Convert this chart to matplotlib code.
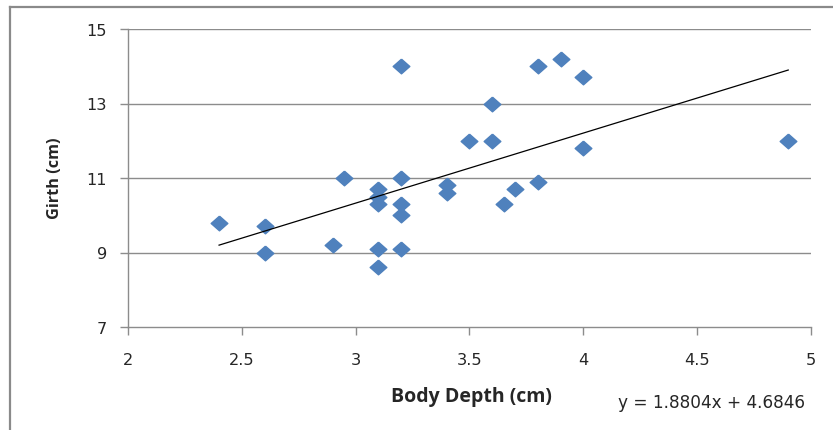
import matplotlib
matplotlib.use("Agg")
import matplotlib.pyplot as plt
from matplotlib.lines import Line2D

# Body depth vs girth measurements
body_depth = [2.4, 2.6, 2.6, 2.9, 2.95, 3.1, 3.1, 3.1, 3.1, 3.1,
              3.2, 3.2, 3.2, 3.2, 3.2, 3.4, 3.4, 3.5, 3.6, 3.6,
              3.65, 3.7, 3.8, 3.8, 3.9, 4.0, 4.0, 4.9]
girth = [9.8, 9.7, 9.0, 9.2, 11.0, 10.7, 10.5, 10.3, 9.1, 8.6,
         14.0, 11.0, 10.3, 10.0, 9.1, 10.8, 10.6, 12.0, 13.0, 12.0,
         10.3, 10.7, 14.0, 10.9, 14.2, 13.7, 11.8, 12.0]

# Linear trend line coefficients
slope = 1.8804
intercept = 4.6846

x_ticks = [2, 2.5, 3, 3.5, 4, 4.5, 5]
y_ticks = [7, 9, 11, 13, 15]

W, H = 833, 431
fig = plt.figure(figsize=(W / 100, H / 100), dpi=100)
ax = fig.add_axes([128 / W, 1 - 328 / H, (811 - 128) / W, (328 - 30) / H])

grid_c = "#8c8c8c"
text_c = "#262626"
tick_font = "DejaVu Sans"
label_font = "Open Sans"

for yv in y_ticks[1:]:
    ax.axhline(yv, color=grid_c, lw=1.0, zorder=1)

diamond = [(0, 0.88), (1, 0), (0, -0.88), (-1, 0), (0, 0.88)]
ax.plot(body_depth, girth, linestyle="none", marker=diamond, markersize=12,
        markerfacecolor="#4F81BD", markeredgecolor="#4F81BD", zorder=3)

x_lo, x_hi = min(body_depth), max(body_depth)
ax.plot([x_lo, x_hi], [slope * x_lo + intercept, slope * x_hi + intercept],
        color="black", lw=0.9, zorder=4)

ax.set_xlim(2, 5)
ax.set_ylim(7, 15)
ax.set_xticks(x_ticks)
ax.set_yticks(y_ticks)
ax.set_xticklabels([f"{v:g}" for v in x_ticks])
ax.set_yticklabels([f"{v:g}" for v in y_ticks])

for side in ("top", "right"):
    ax.spines[side].set_visible(False)
for side in ("left", "bottom"):
    ax.spines[side].set_color(grid_c)
    ax.spines[side].set_linewidth(1.0)

ax.tick_params(axis="both", direction="out", color=grid_c, length=6, width=1.0,
               labelsize=11.6, labelcolor=text_c)
ax.tick_params(axis="x", pad=12)
ax.tick_params(axis="y", pad=9)
for lbl in ax.get_xticklabels() + ax.get_yticklabels():
    lbl.set_fontfamily(tick_font)

fig.text(471 / W, 1 - 397 / H, "Body Depth (cm)", ha="center", va="center",
         fontsize=14, fontweight="bold", family=label_font, color=text_c)
fig.text(55 / W, 1 - 178 / H, "Girth (cm)", ha="center", va="center",
         rotation=90, fontsize=11.7, fontweight="bold", family=label_font, color=text_c)
fig.text(712 / W, 1 - 403 / H, "y = 1.8804x + 4.6846", ha="center", va="center",
         fontsize=12.2, family=tick_font, color=text_c)

# Outer chart frame
frame_c = "#8a8a8a"
fig.add_artist(Line2D([10 / W, 10 / W], [0, 1 - 7.5 / H], color=frame_c, lw=1.6))
fig.add_artist(Line2D([10 / W, 1], [1 - 7.5 / H, 1 - 7.5 / H], color=frame_c, lw=1.6))

fig.savefig("out.png", dpi=100)
